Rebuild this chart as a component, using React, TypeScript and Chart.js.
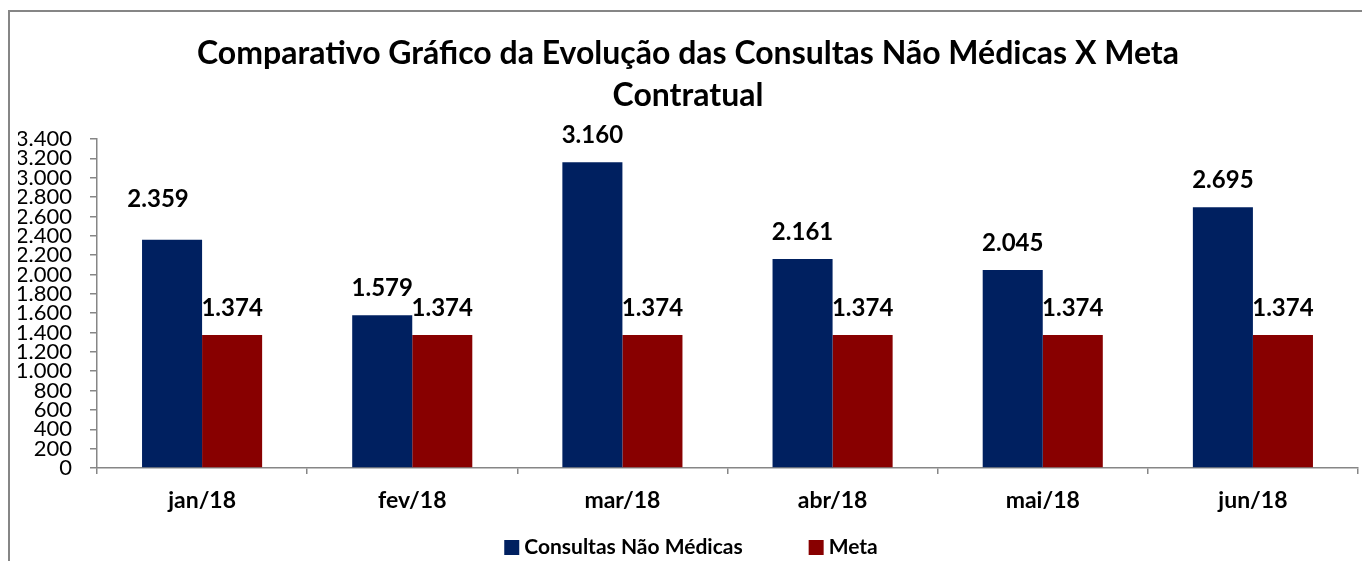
import React, { useEffect, useRef } from "react";
import { Chart, registerables } from "chart.js";

Chart.register(...registerables);

const categories = ["jan/18", "fev/18", "mar/18", "abr/18", "mai/18", "jun/18"];
const consultas = [2359, 1579, 3160, 2161, 2045, 2695];
const meta = [1374, 1374, 1374, 1374, 1374, 1374];
const titleLines = ["Comparativo Gráfico da Evolução das Consultas Não Médicas X Meta", "Contratual"];
const seriesNames = ["Consultas Não Médicas", "Meta"];
const yMax = 3400;
const yStep = 200;

const BLUE = "#002060";
const RED = "#880000";
const GRAY = "#868686";
const FONT = "Lato, 'Open Sans', sans-serif";

const W = 1362;
const H = 561;

// manual nudges of individual value labels (dataset index, point index) -> [dx, dy]
const labelNudges: Record<string, [number, number]> = { "0-0": [-14, -13] };

function fmt(v: number): string {
  return String(Math.round(v)).replace(/\B(?=(\d{3})+(?!\d))/g, ".");
}

const frame = {
  id: "frame",
  beforeDraw(chart: any) {
    const ctx = chart.ctx;
    ctx.save();
    ctx.fillStyle = GRAY;
    ctx.fillRect(8, 10, 2, H);
    ctx.fillRect(8, 10, W, 2);
    ctx.restore();
  },
};

const valueLabels = {
  id: "valueLabels",
  afterDatasetsDraw(chart: any) {
    const ctx = chart.ctx;
    ctx.save();
    ctx.font = `bold 24px ${FONT}`;
    ctx.fillStyle = "#000";
    ctx.textAlign = "center";
    ctx.textBaseline = "middle";
    chart.data.datasets.forEach((ds: any, i: number) => {
      const m = chart.getDatasetMeta(i);
      m.data.forEach((el: any, j: number) => {
        const [dx, dy] = labelNudges[`${i}-${j}`] || [0, 0];
        ctx.fillText(fmt(ds.data[j]), el.x + dx, el.y - 27 + dy);
      });
    });
    ctx.restore();
  },
};

// Legend drawn like the spreadsheet's: small square, tight gap, wide spacing between entries
const bottomLegend = {
  id: "bottomLegend",
  afterDraw(chart: any) {
    const ctx = chart.ctx;
    const box = 15;
    const textGap = 5;
    const itemGap = 66;
    const cx = 691;
    const cy = 547.5;
    ctx.save();
    ctx.font = `bold 21px ${FONT}`;
    ctx.textBaseline = "middle";
    ctx.textAlign = "left";
    const items = chart.data.datasets.map((ds: any) => ({
      text: ds.label,
      color: ds.backgroundColor,
      w: ctx.measureText(ds.label).width,
    }));
    let total = 0;
    items.forEach((it: any, i: number) => {
      total += box + textGap + it.w + (i > 0 ? itemGap : 0);
    });
    let x = cx - total / 2;
    items.forEach((it: any) => {
      ctx.fillStyle = it.color;
      ctx.fillRect(x, cy - box / 2, box, box);
      ctx.fillStyle = "#000";
      ctx.fillText(it.text, x + box + textGap, cy);
      x += box + textGap + it.w + itemGap;
    });
    ctx.restore();
  },
};

export default function App() {
  const ref = useRef<HTMLCanvasElement | null>(null);
  useEffect(() => {
    if (!ref.current) return;
    Chart.defaults.font.family = FONT;
    const chart = new Chart(ref.current, {
      type: "bar",
      data: {
        labels: categories,
        datasets: [
          { label: seriesNames[0], data: consultas, backgroundColor: BLUE, borderWidth: 0 },
          { label: seriesNames[1], data: meta, backgroundColor: RED, borderWidth: 0 },
        ],
      },
      options: {
        animation: false,
        responsive: true,
        maintainAspectRatio: false,
        datasets: { bar: { categoryPercentage: 120 / 210, barPercentage: 1 } },
        layout: { padding: { left: 18, right: 4, top: 0, bottom: H - 527 } },
        plugins: {
          title: {
            display: true,
            text: titleLines,
            color: "#000",
            font: { family: FONT, size: 32, weight: "bold", lineHeight: 42 / 32 },
            padding: { top: 33, bottom: 22 },
          },
          legend: { display: false },
          tooltip: { enabled: false },
        },
        scales: {
          x: {
            grid: { offset: true, drawOnChartArea: false, drawTicks: true, tickLength: 6, color: GRAY, lineWidth: 1.5 },
            border: { display: true, color: GRAY, width: 1.5 },
            ticks: { color: "#000", font: { family: FONT, size: 23, weight: "bold" }, padding: 13, maxRotation: 0 },
            afterFit(scale: any) {
              scale.height = 527 - 468;
            },
          },
          y: {
            min: 0,
            max: yMax,
            grid: { drawOnChartArea: false, drawTicks: true, tickLength: 7, color: GRAY, lineWidth: 1.5 },
            border: { display: true, color: GRAY, width: 1.5 },
            ticks: {
              stepSize: yStep,
              autoSkip: false,
              maxTicksLimit: 100,
              color: "#000",
              padding: 18,
              font: { family: FONT, size: 22, lineHeight: 1 },
              callback: (v: any) => fmt(Number(v)),
            },
            afterFit(scale: any) {
              scale.width = 79;
            },
          },
        },
      },
      plugins: [frame, valueLabels, bottomLegend],
    });
    return () => chart.destroy();
  }, []);
  return (
    <div style={{ position: "fixed", left: 0, top: 0, width: W, height: H, overflow: "hidden", background: "#fff" }}>
      <canvas ref={ref} />
    </div>
  );
}
